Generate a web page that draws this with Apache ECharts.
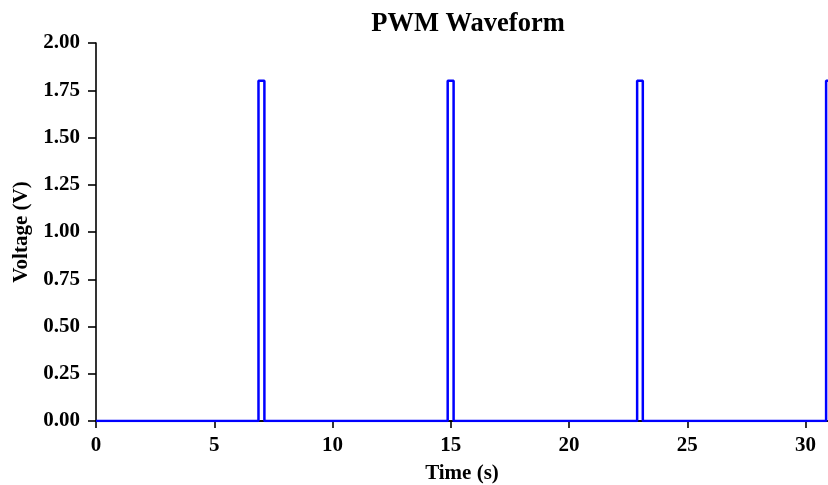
<!DOCTYPE html>
<html>
<head>
<meta charset="utf-8">
<style>
html,body{margin:0;padding:0;background:#fff;}
#chart{width:828px;height:485px;}
</style>
<script src="https://cdn.jsdelivr.net/npm/echarts@6/dist/echarts.min.js"></script>
</head>
<body>
<div id="chart"></div>
<script>
// Data
const pulseStarts = [6.87, 14.87, 22.88, 30.87];   // rising edges (s)
const pulseEnds   = [7.12, 15.12, 23.12, 31.30];   // falling edges (s)
const highLevel = 1.8;   // V
const lowLevel = 0.0;    // V
const tStart = 0;
const xTicks = [0, 5, 10, 15, 20, 25, 30];
const yTicks = [0, 0.25, 0.5, 0.75, 1.0, 1.25, 1.5, 1.75, 2.0];

// Build step waveform points
const wave = [[tStart, lowLevel]];
for (let i = 0; i < pulseStarts.length; i++) {
  wave.push([pulseStarts[i], lowLevel]);
  wave.push([pulseStarts[i], highLevel]);
  wave.push([pulseEnds[i], highLevel]);
  wave.push([pulseEnds[i], lowLevel]);
}

const font = '"Liberation Serif", "Times New Roman", serif';
const chart = echarts.init(document.getElementById('chart'), null, {renderer: 'canvas'});
chart.setOption({
  animation: false,
  backgroundColor: '#ffffff',
  title: {
    text: 'PWM Waveform',
    left: 463, top: 6, textAlign: 'center',
    textStyle: {fontFamily: font, fontWeight: 'bold', fontSize: 26.5, color: '#000'}
  },
  grid: {left: 96, right: 0, top: 43, bottom: 64, containLabel: false, outerBoundsMode: 'none'},
  xAxis: [{
    type: 'value', min: 0, max: 30.95, interval: 5,
    name: 'Time (s)', nameLocation: 'middle', nameGap: 42,
    nameTextStyle: {fontFamily: font, fontWeight: 'bold', fontSize: 21, color: '#000'},
    axisLine: {show: true, onZero: false, lineStyle: {color: '#000', width: 1.6}},
    axisTick: {show: true, length: 7, lineStyle: {color: '#000', width: 1.6}},
    axisLabel: {fontFamily: font, fontWeight: 'bold', fontSize: 21, color: '#000', margin: 14,
      showMaxLabel: false,
      formatter: v => xTicks.includes(v) ? String(v) : ''},
    splitLine: {show: false}
  }, {
    type: 'value', position: 'top', min: 0, max: 30.95,
    axisLine: {show: true, lineStyle: {color: '#000', width: 1.6}},
    axisTick: {show: false}, axisLabel: {show: false}, splitLine: {show: false}
  }],
  yAxis: {
    type: 'value', min: 0, max: 2, interval: 0.25,
    name: 'Voltage (V)', nameLocation: 'middle', nameGap: 64,
    nameTextStyle: {fontFamily: font, fontWeight: 'bold', fontSize: 21, color: '#000'},
    axisLine: {show: true, onZero: false, lineStyle: {color: '#000', width: 1.6}},
    axisTick: {show: true, length: 8, lineStyle: {color: '#000', width: 1.6}},
    axisLabel: {fontFamily: font, fontWeight: 'bold', fontSize: 21, color: '#000', margin: 16,
      formatter: v => v.toFixed(2)},
    splitLine: {show: false}
  },
  series: [{
    type: 'line', data: wave, xAxisIndex: 0, showSymbol: false, symbol: 'none',
    lineStyle: {color: '#0000ff', width: 2.5}, z: 5, clip: true
  }]
});
</script>
</body>
</html>
